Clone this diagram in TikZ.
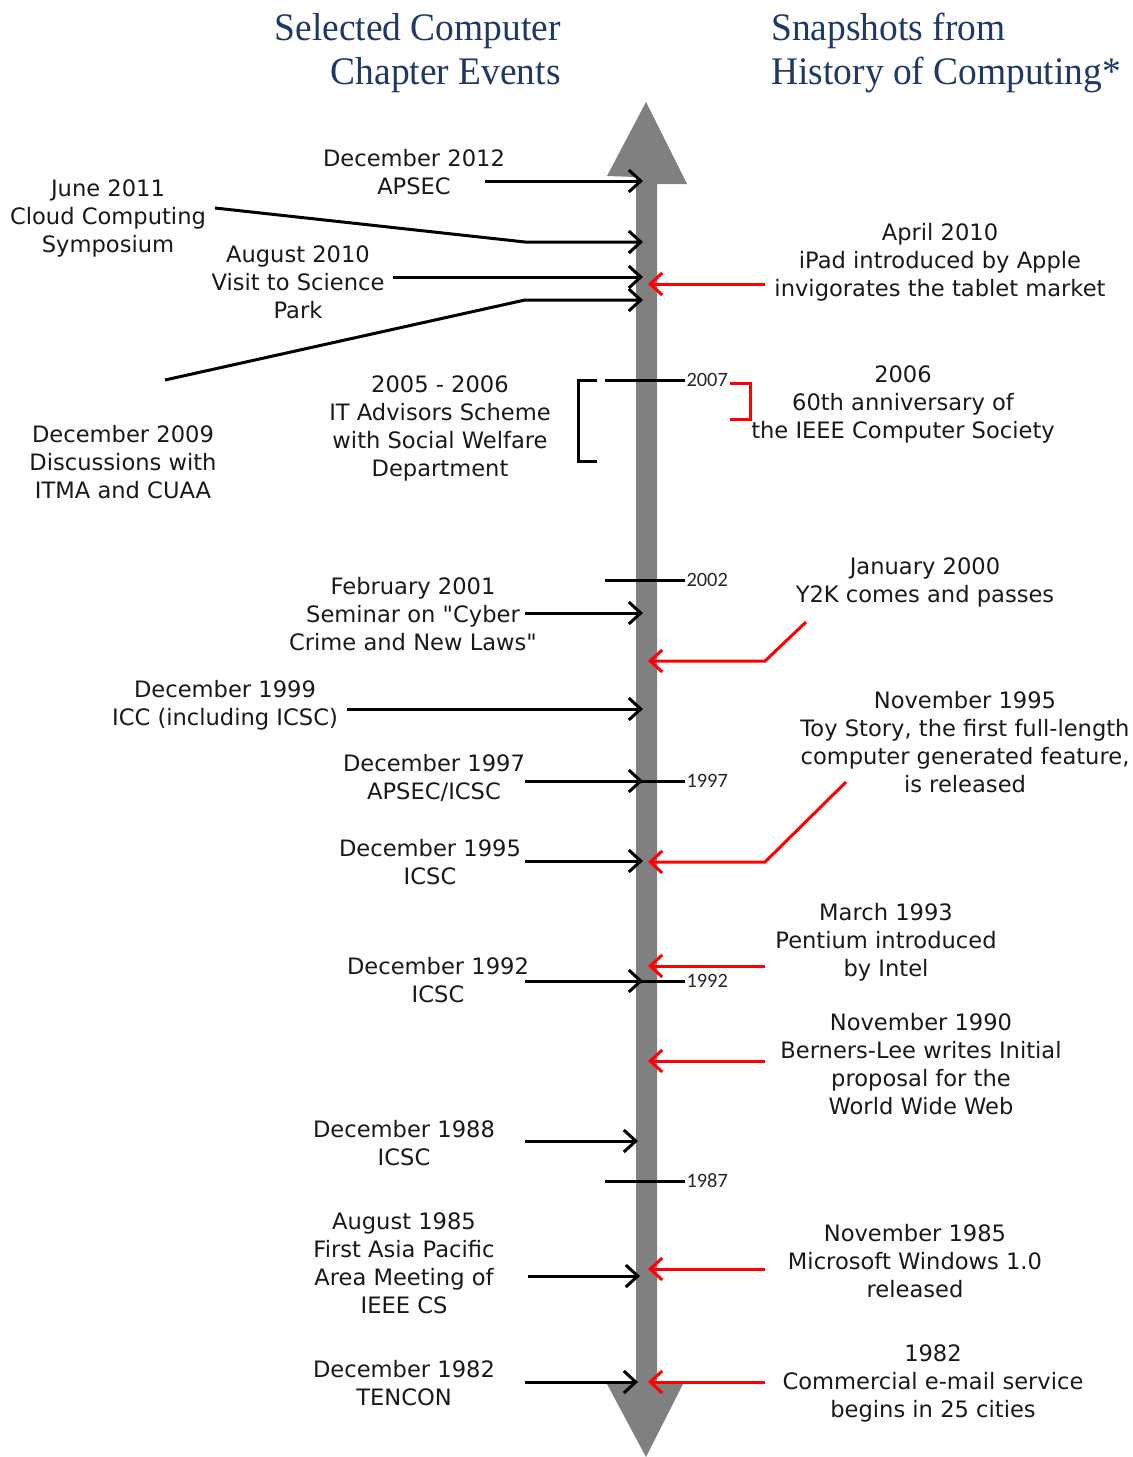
\documentclass[tikz,border=0pt]{standalone}
\usepackage{fontspec}
\setmainfont{DejaVu Sans}
\newfontfamily\titlefont[FakeStretch=0.96]{Liberation Serif}
\newfontfamily\tickfont{Carlito}
\usepackage{xcolor}
\usetikzlibrary{arrows.meta}
\definecolor{titleblue}{RGB}{31,56,100}
\definecolor{axisgray}{RGB}{128,128,128}
\definecolor{snapred}{RGB}{255,0,0}

\begin{document}
\begin{tikzpicture}[x=0.5pt, y=-0.5pt,
    heading/.style={font=\titlefont\fontsize{19.5}{22}\selectfont, text=titleblue, inner sep=0pt},
    event/.style={font=\fontsize{11.3}{14}\selectfont, align=center, inner sep=0pt, text=black!90},
    yearlbl/.style={font=\tickfont\fontsize{10.2}{12}\selectfont, inner sep=0pt, anchor=west, text=black!85},
    chapter/.style={line width=1.5pt, -{Straight Barb[length=6pt, width=11pt]}},
    snap/.style={line width=1.5pt, draw=snapred, -{Straight Barb[length=6pt, width=11pt]}},
    tickline/.style={line width=1.5pt},
    bracket/.style={line width=1.5pt}
]
\useasboundingbox (0,0) rectangle (1132,1457);

% timeline axis
\fill[axisgray] (636,177) -- (607,176) -- (646,102) -- (687,184) -- (657,184)
  -- (657,1384) -- (683,1384) -- (646,1457) -- (607,1384) -- (636,1384) -- cycle;

% headings
\node[heading, align=right, anchor=east] (lefthead) at (561,53) {Selected Computer\\Chapter Events};
\node[heading, align=left, anchor=west] (righthead) at (771,53) {Snapshots from\\History of Computing*};

% year ticks
\draw[tickline] (605,380) -- (685,380) node[yearlbl] (t2007) {2007};
\draw[tickline] (605,580) -- (685,580) node[yearlbl] (t2002) {2002};
\draw[tickline] (640,781) -- (685,781) node[yearlbl] (t1997) {1997};
\draw[tickline] (640,981) -- (685,981) node[yearlbl] (t1992) {1992};
\draw[tickline] (605,1181) -- (685,1181) node[yearlbl] (t1987) {1987};

% chapter events
\node[event] (dec12) at (414,172) {December 2012\\APSEC};
\node[event] (jun11) at (108,218) {June 2011\\Cloud Computing\\Symposium};
\node[event] (aug10) at (298,282) {August 2010\\Visit to Science\\Park};
\node[event] (dec09) at (123,462) {December 2009\\Discussions with\\ITMA and CUAA};
\node[event] (itadv) at (440,428) {2005 - 2006\\IT Advisors Scheme\\with Social Welfare\\Department};
\node[event] (feb01) at (413,614) {February 2001\\Seminar on \textquotedbl Cyber\\Crime and New Laws\textquotedbl};
\node[event] (dec99) at (225,705) {December 1999\\ICC (including ICSC)};
\node[event] (dec97) at (434,778) {December 1997\\APSEC/ICSC};
\node[event] (dec95) at (430,862) {December 1995\\ICSC};
\node[event] (dec92) at (438,980) {December 1992\\ICSC};
\node[event] (dec88) at (404,1143) {December 1988\\ICSC};
\node[event] (aug85) at (404,1263) {August 1985\\First Asia Pacific\\Area Meeting of\\IEEE CS};
\node[event] (dec82) at (404,1383) {December 1982\\TENCON};

% snapshots
\node[event] (apr10) at (940,262) {April 2010\\iPad introduced by Apple\\invigorates the tablet market};
\node[event] (ieee06) at (903,404) {2006\\60th anniversary of\\the IEEE Computer Society};
\node[event] (jan00) at (925,582) {January 2000\\Y2K comes and passes};
\node[event] (nov95) at (965,742) {November 1995\\Toy Story, the first full-length\\computer generated feature,\\is released};
\node[event] (mar93) at (886,942) {March 1993\\Pentium introduced\\by Intel};
\node[event] (nov90) at (921,1064) {November 1990\\Berners-Lee writes Initial\\proposal for the\\World Wide Web};
\node[event] (nov85) at (915,1261) {November 1985\\Microsoft Windows 1.0\\released};
\node[event] (mail82) at (933,1383) {1982\\Commercial e-mail service\\begins in 25 cities};

% brackets
\draw[bracket] (597,380) -- (578,380) -- (578,461) -- (597,461);
\draw[bracket, draw=snapred] (730,383) -- (750,383) -- (750,419) -- (730,419);

% connector ends
\coordinate (c12s) at (485,181);  \coordinate (c12e) at (643,181);
\coordinate (c11s) at (215,208);  \coordinate (c11k) at (525,242);  \coordinate (c11e) at (643,242);
\coordinate (c10s) at (393,277);  \coordinate (c10e) at (643,277);
\coordinate (c09s) at (165,380);  \coordinate (c09k) at (525,300);  \coordinate (c09e) at (643,300);
\coordinate (c01s) at (525,613);  \coordinate (c01e) at (643,613);
\coordinate (c99s) at (347,709);  \coordinate (c99e) at (643,709);
\coordinate (c97s) at (525,781);  \coordinate (c97e) at (643,781);
\coordinate (c95s) at (525,861);  \coordinate (c95e) at (643,861);
\coordinate (c92s) at (525,981);  \coordinate (c92e) at (643,981);
\coordinate (c88s) at (525,1141); \coordinate (c88e) at (638,1141);
\coordinate (c85s) at (528,1276); \coordinate (c85e) at (640,1276);
\coordinate (c82s) at (525,1382); \coordinate (c82e) at (638,1382);

\coordinate (s10s) at (765,284);  \coordinate (s10e) at (648,284);
\coordinate (s00s) at (806,622);  \coordinate (s00k) at (765,661);  \coordinate (s00e) at (648,661);
\coordinate (s95s) at (846,782);  \coordinate (s95k) at (765,862);  \coordinate (s95e) at (648,862);
\coordinate (s93s) at (765,966);  \coordinate (s93e) at (648,966);
\coordinate (s90s) at (765,1061); \coordinate (s90e) at (648,1061);
\coordinate (s85s) at (765,1269); \coordinate (s85e) at (648,1269);
\coordinate (s82s) at (765,1382); \coordinate (s82e) at (648,1382);

\draw[chapter] (c12s) -- (c12e);
\draw[chapter] (c11s) -- (c11k) -- (c11e);
\draw[chapter] (c10s) -- (c10e);
\draw[chapter] (c09s) -- (c09k) -- (c09e);
\draw[chapter] (c01s) -- (c01e);
\draw[chapter] (c99s) -- (c99e);
\draw[chapter] (c97s) -- (c97e);
\draw[chapter] (c95s) -- (c95e);
\draw[chapter] (c92s) -- (c92e);
\draw[chapter] (c88s) -- (c88e);
\draw[chapter] (c85s) -- (c85e);
\draw[chapter] (c82s) -- (c82e);

\draw[snap] (s10s) -- (s10e);
\draw[snap] (s00s) -- (s00k) -- (s00e);
\draw[snap] (s95s) -- (s95k) -- (s95e);
\draw[snap] (s93s) -- (s93e);
\draw[snap] (s90s) -- (s90e);
\draw[snap] (s85s) -- (s85e);
\draw[snap] (s82s) -- (s82e);

\end{tikzpicture}
\end{document}
